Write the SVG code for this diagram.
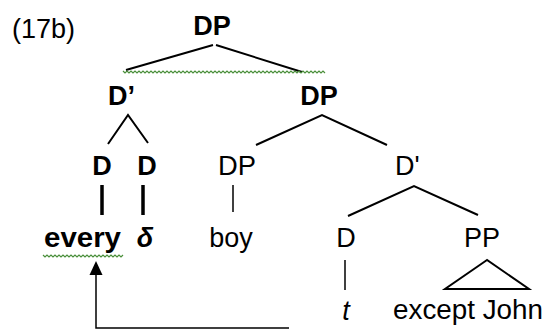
<svg xmlns="http://www.w3.org/2000/svg" width="550" height="331" viewBox="0 0 550 331">
<style>
text{font-family:"Liberation Sans",Arial,sans-serif;font-size:27px;fill:#000}
.b{font-weight:bold}
.c{text-anchor:middle}
.ln{stroke:#000;fill:none;stroke-linecap:butt}
.w2{stroke-width:2}
.w3{stroke-width:3.5}
.w1{stroke-width:1.5}
.wavy{stroke:#4a8f3a;stroke-width:1.2;fill:none}
</style>
<defs>
<marker id="ah" markerWidth="16" markerHeight="14" refX="1" refY="7" orient="auto" markerUnits="userSpaceOnUse">
<path d="M0,0.5 L14,7 L0,13.5 Z" fill="#000"/>
</marker>
</defs>
<rect width="550" height="331" fill="#fff"/>
<g id="label"><text x="12" y="38">(17b)</text></g>
<g id="dp-root"><text class="b c" x="212" y="35">DP</text></g>
<g id="dbar-left"><text class="b" x="108" y="105">D’</text></g>
<g id="dp-right"><text class="b c" x="319" y="105">DP</text></g>
<g id="d1"><text class="b c" x="102" y="175">D</text></g>
<g id="d2"><text class="b c" x="147" y="175">D</text></g>
<g id="dp-boy"><text class="c" x="237" y="175" textLength="38" lengthAdjust="spacingAndGlyphs">DP</text></g>
<g id="dbar-right"><text x="395" y="175">D'</text></g>
<g id="every"><text class="b" x="44" y="247" textLength="77" lengthAdjust="spacingAndGlyphs">every</text></g>
<g id="delta"><text class="b c" x="145" y="247" font-style="italic">δ</text></g>
<g id="boy"><text class="c" x="231" y="247">boy</text></g>
<g id="d3"><text class="c" x="346" y="247">D</text></g>
<g id="pp"><text class="c" x="482" y="247">PP</text></g>
<g id="trace"><text class="c" x="346" y="320" font-style="italic">t</text></g>
<g id="except"><text x="393" y="319" textLength="150" lengthAdjust="spacingAndGlyphs">except John</text></g>
<g id="connectors">
<path class="ln w2" d="M126,70 L213,45 M216,45 L302,72"/>
<path class="wavy" d="M123,71 l2,2 l2,-2 l2,2 l2,-2 l2,2 l2,-2 l2,2 l2,-2 l2,2 l2,-2 l2,2 l2,-2 l2,2 l2,-2 l2,2 l2,-2 l2,2 l2,-2 l2,2 l2,-2 l2,2 l2,-2 l2,2 l2,-2 l2,2 l2,-2 l2,2 l2,-2 l2,2 l2,-2 l2,2 l2,-2 l2,2 l2,-2 l2,2 l2,-2 l2,2 l2,-2 l2,2 l2,-2 l2,2 l2,-2 l2,2 l2,-2 l2,2 l2,-2 l2,2 l2,-2 l2,2 l2,-2 l2,2 l2,-2 l2,2 l2,-2 l2,2 l2,-2 l2,2 l2,-2 l2,2 l2,-2 l2,2 l2,-2 l2,2 l2,-2 l2,2 l2,-2 l2,2 l2,-2 l2,2 l2,-2 l2,2 l2,-2 l2,2 l2,-2 l2,2 l2,-2 l2,2 l2,-2 l2,2 l2,-2 l2,2 l2,-2 l2,2 l2,-2 l2,2 l2,-2 l2,2 l2,-2 l2,2 l2,-2 l2,2 l2,-2 l2,2 l2,-2 l2,2 l2,-2 l2,2 l2,-2 l2,2 l2,-2 l2,2"/>
<path class="ln w2" d="M108,144 L128,115 L148,143" stroke-width="2.5"/>
<path class="ln w2" d="M256,145 L322,115 L387,145"/>
<path class="ln w3" d="M102,185 V215 M143,185 V215"/>
<path class="ln w1" d="M233,185 V212"/>
<path class="ln w2" d="M348,216 L414,186 L478,215"/>
<path class="ln w1" d="M345,260 V290"/>
<path class="ln w2" d="M487,260 L445,289 L529,289 Z"/>
<path class="wavy" d="M43,255 l2,2 l2,-2 l2,2 l2,-2 l2,2 l2,-2 l2,2 l2,-2 l2,2 l2,-2 l2,2 l2,-2 l2,2 l2,-2 l2,2 l2,-2 l2,2 l2,-2 l2,2 l2,-2 l2,2 l2,-2 l2,2 l2,-2 l2,2 l2,-2 l2,2 l2,-2 l2,2 l2,-2 l2,2 l2,-2 l2,2 l2,-2 l2,2 l2,-2 l2,2 l2,-2 l2,2 l2,-2"/>
<path class="ln w1" d="M289,328 H96 V274" marker-end="url(#ah)"/>
</g>
</svg>
